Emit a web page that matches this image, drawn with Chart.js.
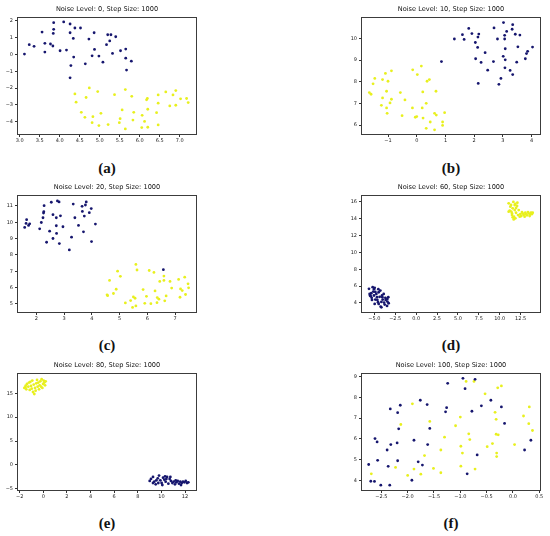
<!DOCTYPE html>
<html>
<head>
<meta charset="utf-8">
<script src="https://cdn.jsdelivr.net/npm/chart.js@4.4.0/dist/chart.umd.min.js"></script>
<style>
  body { margin: 0; background: #fff; }
  #page { position: relative; width: 550px; height: 536px; overflow: hidden; }
  .cell { position: absolute; width: 205px; height: 149px; }
  .cap { position: absolute; width: 60px; text-align: center; line-height: 18px;
         font: bold 15px "Liberation Serif", "DejaVu Serif", serif; color: #111; }
</style>
</head>
<body>
<div id="page">
  <div class="cell" style="left:0;top:0"><canvas id="plot-a" width="205" height="149"></canvas></div>
  <div class="cell" style="left:344px;top:0"><canvas id="plot-b" width="205" height="149"></canvas></div>
  <div class="cell" style="left:0;top:178px"><canvas id="plot-c" width="205" height="149"></canvas></div>
  <div class="cell" style="left:344px;top:178px"><canvas id="plot-d" width="205" height="149"></canvas></div>
  <div class="cell" style="left:0;top:356px"><canvas id="plot-e" width="205" height="149"></canvas></div>
  <div class="cell" style="left:344px;top:356px"><canvas id="plot-f" width="205" height="149"></canvas></div>
  <div class="cap" style="left:77px;top:160px">(a)</div>
  <div class="cap" style="left:421px;top:160px">(b)</div>
  <div class="cap" style="left:77px;top:337px">(c)</div>
  <div class="cap" style="left:421px;top:337px">(d)</div>
  <div class="cap" style="left:77px;top:515px">(e)</div>
  <div class="cap" style="left:421px;top:515px">(f)</div>
</div>
<script>
// ---- data ----
var titles = [
  'Noise Level: 0, Step Size: 1000',
  'Noise Level: 10, Step Size: 1000',
  'Noise Level: 20, Step Size: 1000',
  'Noise Level: 60, Step Size: 1000',
  'Noise Level: 80, Step Size: 1000',
  'Noise Level: 100, Step Size: 1000'
];

// (a) noise 0
var aNavy = [[3.12,0.02],[3.24,0.58],[3.36,0.48],[3.56,1.33],[3.63,0.66],[3.63,0.14],[3.77,0.62],[3.83,0.50],
  [3.85,1.89],[3.85,1.49],[3.84,1.25],[4.01,0.22],[4.10,1.93],[4.17,0.26],[4.26,1.81],[4.26,1.29],[4.38,1.57],
  [4.52,1.57],[4.34,0.95],[4.35,-0.16],[4.28,-0.66],[4.26,-1.39],[4.64,-0.56],[4.73,0.91],[4.86,1.29],[4.87,0.30],
  [4.81,-0.08],[4.98,-0.10],[5.08,-0.46],[5.17,0.58],[5.20,1.17],[5.28,1.17],[5.25,0.80],[5.40,1.05],[5.32,0.06],
  [5.52,0.22],[5.65,0.32],[5.65,-0.22],[5.67,-0.93],[5.79,-0.40]];
var aYellow = [[4.38,-2.35],[4.41,-2.84],[4.66,-2.56],[4.74,-1.99],[4.95,-2.21],[4.54,-3.44],[4.63,-3.74],[4.83,-3.70],
  [4.81,-4.06],[5.03,-3.50],[4.98,-4.23],[5.21,-4.17],[5.37,-2.39],[5.56,-3.30],[5.49,-4.06],[5.51,-3.82],[5.64,-2.09],
  [5.64,-4.43],[5.80,-2.49],[5.85,-3.44],[5.83,-3.90],[6.06,-3.62],[6.12,-3.98],[6.05,-4.35],[6.20,-4.33],[6.17,-2.70],
  [6.19,-2.62],[6.20,-3.26],[6.42,-3.46],[6.46,-2.41],[6.46,-2.90],[6.46,-4.19],[6.65,-2.23],[6.83,-2.41],[6.90,-2.15],
  [6.75,-3.06],[6.90,-3.02],[7.02,-2.64],[7.17,-2.62],[7.21,-2.86]];
var aXTicks = [3.0,3.5,4.0,4.5,5.0,5.5,6.0,6.5,7.0];
var aYTicks = [-4,-3,-2,-1,0,1,2];

// (b) noise 10
var bNavy = [[1.31,9.97],[1.59,10.17],[1.65,9.95],[1.81,10.46],[1.92,10.22],[2.13,10.06],[2.16,10.20],[2.04,9.81],
  [2.12,9.58],[2.05,9.06],[2.24,8.89],[2.38,9.34],[2.47,8.53],[2.14,7.92],[0.86,8.93],[2.69,10.48],[2.81,9.97],
  [2.67,8.93],[2.86,7.88],[2.93,8.15],[3.02,10.73],[3.06,10.14],[3.06,9.97],[3.08,9.52],[3.13,10.32],[3.08,9.01],
  [3.07,8.64],[3.01,9.17],[3.32,10.42],[3.34,10.63],[3.43,10.19],[3.59,10.15],[3.25,8.52],[3.34,8.33],[3.48,8.90],
  [3.52,9.61],[3.86,9.40],[3.78,9.06],[4.03,9.60],[3.82,9.30]];
var bYellow = [[-1.65,7.50],[-1.59,7.42],[-1.52,7.90],[-1.46,8.15],[-1.19,8.10],[-1.09,8.38],[-1.00,8.02],[-0.88,8.50],
  [-1.19,7.25],[-1.05,7.56],[-1.23,6.91],[-1.05,6.79],[-1.03,6.54],[-0.93,7.02],[-0.88,7.19],[-0.57,7.50],[-0.41,7.16],
  [-0.51,6.43],[-0.14,8.55],[0.02,8.33],[-0.15,6.79],[-0.05,6.36],[0.00,6.39],[0.19,6.79],[0.22,6.32],[0.21,7.53],
  [0.36,8.02],[0.44,8.10],[0.33,7.00],[0.16,8.72],[0.47,6.14],[0.67,7.56],[0.62,6.54],[0.68,6.46],[0.90,6.14],
  [0.90,5.98],[0.97,6.57],[0.33,5.85],[0.62,5.78]];
var bXTicks = [-1,0,1,2,3,4];
var bYTicks = [6,7,8,9,10];

// (c) noise 20
var cNavy = [[1.58,9.69],[1.65,10.16],[1.63,9.93],[1.72,9.81],[1.76,9.91],[2.12,9.60],[2.18,9.99],[2.24,10.28],
  [2.26,10.57],[2.27,10.65],[2.28,11.02],[2.37,8.78],[2.48,9.46],[2.54,11.23],[2.60,9.01],[2.60,10.47],[2.72,10.28],
  [2.72,9.79],[2.73,9.32],[2.76,11.31],[2.82,11.25],[2.83,8.70],[2.87,10.40],[2.96,9.73],[3.27,9.09],[3.19,8.31],
  [3.33,11.12],[3.39,10.28],[3.52,9.81],[3.65,10.98],[3.66,10.67],[3.70,9.42],[3.73,10.38],[3.80,11.25],[3.77,11.06],
  [3.91,10.59],[3.98,10.84],[3.99,8.82],[4.13,9.89],[6.58,7.10]];
var cYellow = [[4.55,5.56],[4.57,5.51],[4.64,6.44],[4.78,5.64],[4.88,5.90],[4.93,7.01],[5.03,6.69],[5.21,5.06],
  [5.40,5.21],[5.50,5.43],[5.56,5.35],[5.47,4.79],[5.59,4.88],[5.59,7.42],[5.63,7.08],[5.85,5.88],[5.91,5.04],
  [5.97,5.47],[6.07,7.05],[6.13,5.02],[6.24,6.93],[6.28,5.80],[6.36,5.39],[6.35,5.08],[6.45,6.38],[6.42,5.29],
  [6.60,6.71],[6.60,6.44],[6.63,5.19],[6.68,5.49],[6.82,6.38],[6.88,5.97],[7.13,6.50],[7.18,5.41],[7.20,5.92],
  [7.26,5.82],[7.35,6.64],[7.38,5.58],[7.47,6.23],[7.49,5.99]];
var cXTicks = [2,3,4,5,6,7];
var cYTicks = [5,6,7,8,9,10,11];

// (d) noise 60
var dNavy = [[-5.64,5.67],[-5.20,5.87],[-4.96,5.79],[-4.52,5.63],[-5.52,4.88],[-5.32,4.60],[-5.04,4.88],[-4.76,5.07],
  [-4.48,5.27],[-4.36,4.72],[-4.08,4.88],[-4.00,4.40],[-4.88,4.40],[-5.28,4.36],[-4.96,3.88],[-4.56,4.08],[-4.24,3.56],
  [-3.76,3.80],[-3.44,4.16],[-3.33,4.68],[-3.68,4.60],[-3.48,3.64],[-5.44,4.80],[-5.12,5.35],[-4.68,4.68],[-4.16,4.12],
  [-3.88,5.07],[-4.48,3.88],[-4.88,5.31],[-5.36,5.15],[-3.29,3.96],[-4.16,3.48],[-3.64,4.36],[-5.04,5.63],[-5.56,5.07],
  [-4.64,4.36],[-4.28,5.47],[-3.84,4.04],[-3.44,4.48],[-4.04,4.68]];
var dYellow = [[11.07,15.84],[11.35,15.64],[11.63,16.00],[11.87,15.76],[12.07,15.52],[11.55,15.24],[11.19,14.96],
  [11.79,15.04],[11.47,14.64],[11.71,14.25],[11.95,14.72],[12.19,14.44],[12.46,14.56],[12.66,14.80],[12.86,14.48],
  [13.06,14.72],[13.26,14.41],[13.46,14.64],[13.66,14.52],[13.86,14.56],[11.39,14.84],[11.67,13.93],[11.55,14.17],
  [12.27,15.04],[11.27,15.44],[11.95,15.28],[12.58,14.33],[12.98,14.25],[13.38,14.80],[13.94,14.72],[11.07,14.84],
  [11.79,15.64],[12.11,15.92],[12.39,14.25],[13.58,14.33],[13.14,14.56],[12.74,14.64],[11.47,14.44],[11.87,14.05],
  [13.74,14.72]];
var dXTicks = [-5.0,-2.5,0.0,2.5,5.0,7.5,10.0,12.5];
var dYTicks = [4,6,8,10,12,14,16];

// (e) noise 80
var eNavy = [[9.01,-3.35],[9.12,-2.93],[9.29,-2.51],[9.40,-3.49],[9.52,-4.05],[9.69,-2.79],[9.80,-2.23],[9.91,-3.21],
  [10.02,-3.77],[10.14,-2.65],[10.25,-3.07],[10.36,-3.49],[10.48,-2.51],[10.59,-3.91],[10.70,-2.93],[10.81,-3.35],
  [10.93,-3.77],[11.04,-3.49],[11.15,-4.05],[11.27,-3.63],[11.38,-3.35],[11.49,-3.91],[11.60,-3.49],[11.72,-3.77],
  [11.83,-3.49],[11.94,-3.63],[12.06,-3.35],[12.17,-3.77],[12.28,-3.63],[9.57,-3.21],[10.08,-4.19],[10.42,-2.93],
  [10.76,-2.51],[11.21,-3.21],[11.66,-4.19],[9.29,-3.77],[9.74,-3.77],[10.31,-2.37]];
var eYellow = [[-1.60,16.12],[-1.49,16.61],[-1.38,16.96],[-1.27,16.40],[-1.10,17.38],[-0.93,17.66],[-0.81,16.82],
  [-0.70,16.12],[-0.59,17.10],[-0.48,16.40],[-0.36,15.84],[-0.25,17.52],[-0.14,17.94],[-0.02,16.96],[0.09,17.24],
  [0.20,17.52],[-1.44,15.84],[-1.15,15.70],[-0.87,15.28],[-0.76,14.86],[-1.04,16.54],[-0.53,17.80],[-0.31,16.68],
  [-0.08,16.12],[0.15,16.68],[-1.21,17.24],[-0.98,15.98],[-0.65,15.56],[-0.42,17.24],[-0.19,16.40],[-1.52,16.26],
  [0.03,17.66]];
var eXTicks = [-2,0,2,4,6,8,10,12];
var eYTicks = [-5,0,5,10,15];

// (f) noise 100
var fNavy = [[-2.74,4.76],[-2.70,3.95],[-2.63,3.94],[-2.62,6.01],[-2.58,5.85],[-2.57,4.96],[-2.51,3.76],[-2.39,5.46],
  [-2.37,4.67],[-2.34,3.76],[-2.33,7.44],[-2.32,5.72],[-2.20,5.80],[-2.19,4.94],[-2.19,7.26],[-2.17,6.48],[-2.14,7.62],
  [-1.92,4.00],[-1.88,5.93],[-1.80,4.89],[-1.76,7.86],[-1.72,4.73],[-1.62,5.72],[-1.63,7.65],[-1.58,6.50],[-1.28,7.30],
  [-1.26,7.50],[-1.24,8.68],[-0.95,8.92],[-0.91,8.42],[-0.87,4.31],[-0.78,7.33],[-0.72,8.87],[-0.68,5.22],[-0.60,7.59],
  [-0.42,7.86],[-0.22,7.54],[-0.16,6.74],[0.22,5.46],[0.34,5.93]];
var fYellow = [[-2.69,4.31],[-2.23,4.62],[-2.13,6.69],[-1.91,7.69],[-2.00,4.23],[-1.88,4.54],[-1.75,4.29],[-1.68,5.19],
  [-1.58,6.84],[-1.51,4.57],[-1.37,4.36],[-1.37,5.46],[-1.30,6.08],[-1.09,6.63],[-1.00,7.05],[-0.99,4.68],[-0.99,5.64],
  [-0.96,5.31],[-0.89,8.77],[-0.84,6.24],[-0.82,5.96],[-0.72,4.54],[-0.74,8.77],[-0.53,8.17],[-0.49,5.62],[-0.39,5.77],
  [-0.34,7.28],[-0.32,6.94],[-0.32,6.22],[-0.29,8.46],[-0.28,6.19],[-0.31,5.31],[-0.31,5.14],[-0.22,8.55],[0.03,5.72],
  [0.20,7.10],[0.31,7.54],[0.30,6.73],[0.37,6.40]];
var fXTicks = [-2.5,-2.0,-1.5,-1.0,-0.5,0.0,0.5];
var fYTicks = [4,5,6,7,8,9];

var navyColor = 'rgb(22, 22, 110)';
var yellowColor = 'rgb(232, 240, 30)';

// draws the four spines matplotlib puts round the axes
var framePlugin = {
  id: 'frame',
  afterDraw: function(chart) {
    var a = chart.chartArea;
    var ctx = chart.ctx;
    ctx.save();
    ctx.strokeStyle = '#3c3c3c';
    ctx.lineWidth = 1;
    ctx.strokeRect(Math.round(a.left) + 0.5, Math.round(a.top) + 0.5,
      Math.round(a.right - a.left) - 1, Math.round(a.bottom - a.top) - 1);
    ctx.restore();
  }
};

function toPoints(list) {
  return list.map(function(p) { return { x: p[0], y: p[1] }; });
}

function fmt(v, dec) {
  return v.toFixed(dec).replace('-', '\u2212');
}

function axis(pos, range, ticks, dec) {
  return {
    type: 'linear',
    position: pos,
    min: range[0],
    max: range[1],
    border: { display: false },
    grid: { drawOnChartArea: false, drawTicks: true, tickLength: 2, color: '#333' },
    ticks: {
      autoSkip: false, maxRotation: 0, minRotation: 0,
      padding: pos === 'bottom' ? 1 : 2,
      color: '#222',
      font: { family: 'DejaVu Sans', size: 5 },
      callback: function(v) { return fmt(v, dec); }
    },
    afterBuildTicks: function(scale) {
      scale.ticks = ticks.map(function(v) { return { value: v }; });
    },
    afterFit: function(scale) {
      if (pos === 'bottom') {
        scale.height = 14;
        scale.paddingLeft = 0; scale.paddingRight = 0;
      } else {
        scale.width = 17;
        scale.paddingTop = 0; scale.paddingBottom = 0;
      }
    }
  };
}

function generateChart(id, title, navy, yellow, xRange, yRange, xTicks, yTicks, xDec, yDec) {
  var ctx = document.getElementById(id).getContext('2d');
  return new Chart(ctx, {
    type: 'scatter',
    data: {
      datasets: [
        { data: toPoints(navy), backgroundColor: navyColor, pointRadius: 1.4, borderWidth: 0 },
        { data: toPoints(yellow), backgroundColor: yellowColor, pointRadius: 1.4, borderWidth: 0 }
      ]
    },
    options: {
      responsive: false,
      animation: false,
      events: [],
      layout: { padding: { left: 0, right: 8, top: 0, bottom: 0 } },
      plugins: {
        legend: { display: false },
        tooltip: { enabled: false },
        title: {
          display: true, text: title, fullSize: false, color: '#111',
          font: { family: 'DejaVu Sans', size: 6.6, weight: 'normal' },
          padding: { top: 5, bottom: 4 }
        }
      },
      scales: {
        x: axis('bottom', xRange, xTicks, xDec),
        y: axis('left', yRange, yTicks, yDec)
      }
    },
    plugins: [framePlugin]
  });
}

generateChart('plot-a', titles[0], aNavy, aYellow, [2.934, 7.43], [-4.79, 2.23], aXTicks, aYTicks, 1, 0);
generateChart('plot-b', titles[1], bNavy, bYellow, [-1.94, 4.325], [5.54, 10.99], bXTicks, bYTicks, 0, 0);
generateChart('plot-c', titles[2], cNavy, cYellow, [1.303, 7.793], [4.446, 11.678], cXTicks, cYTicks, 0, 0);
generateChart('plot-d', titles[3], dNavy, dYellow, [-6.595, 14.936], [2.802, 16.837], dXTicks, dYTicks, 1, 0);
generateChart('plot-e', titles[4], eNavy, eYellow, [-2.226, 13.015], [-5.45, 19.27], eXTicks, eYTicks, 0, 0);
generateChart('plot-f', titles[5], fNavy, fYellow, [-2.886, 0.532], [3.48, 9.18], fXTicks, fYTicks, 1, 0);
</script>
</body>
</html>
